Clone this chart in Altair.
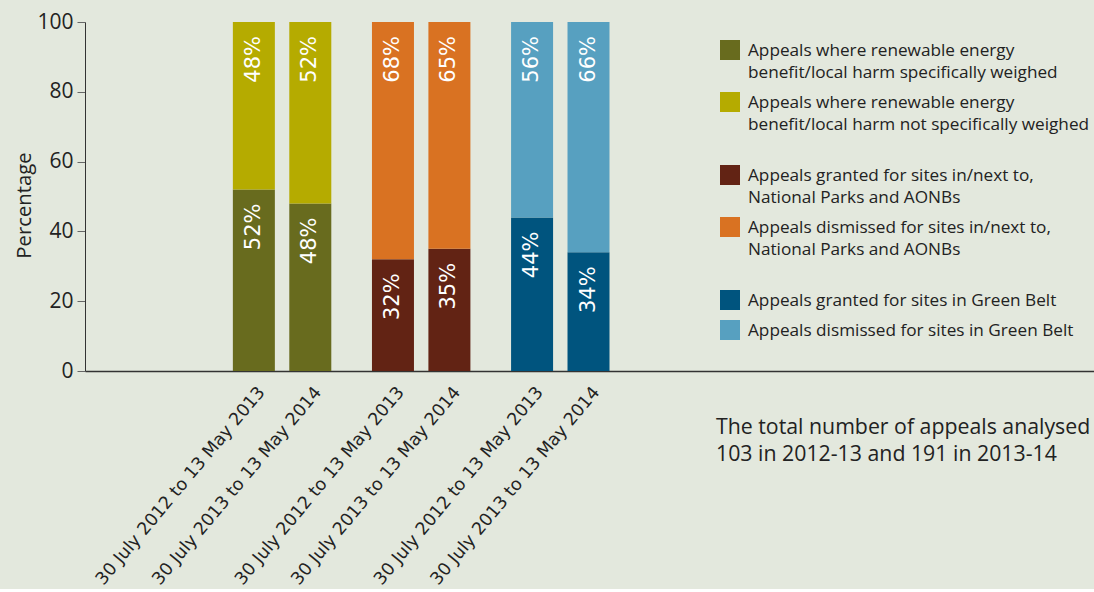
import altair as alt
import pandas as pd

# ---------------- data ----------------
periods = ["30 July 2012 to 13 May 2013", "30 July 2013 to 13 May 2014"]
groups = ["Renewable energy weighing", "National Parks and AONBs", "Green Belt"]

# lower (dark) segment and upper (light) segment, per group and period
lower_values = [52, 48, 32, 35, 44, 34]
upper_values = [48, 52, 68, 65, 56, 66]

lower_series = [
    "Appeals where renewable energy benefit/local harm specifically weighed",
    "Appeals granted for sites in/next to, National Parks and AONBs",
    "Appeals granted for sites in Green Belt",
]
upper_series = [
    "Appeals where renewable energy benefit/local harm not specifically weighed",
    "Appeals dismissed for sites in/next to, National Parks and AONBs",
    "Appeals dismissed for sites in Green Belt",
]
lower_colors = ["#686b1e", "#622314", "#00547e"]
upper_colors = ["#b5ab00", "#d97222", "#57a0c0"]

legend_lines = [
    ["Appeals where renewable energy", "benefit/local harm specifically weighed"],
    ["Appeals where renewable energy", "benefit/local harm not specifically weighed"],
    ["Appeals granted for sites in/next to,", "National Parks and AONBs"],
    ["Appeals dismissed for sites in/next to,", "National Parks and AONBs"],
    ["Appeals granted for sites in Green Belt"],
    ["Appeals dismissed for sites in Green Belt"],
]
legend_colors = [lower_colors[0], upper_colors[0], lower_colors[1],
                 upper_colors[1], lower_colors[2], upper_colors[2]]

note_lines = ["The total number of appeals analysed",
              "103 in 2012-13 and 191 in 2013-14"]

# ---------------- layout (pixels) ----------------
W, H = 1009, 349
FIRST, GROUP_STEP, PAIR_STEP = 165.5, 140.5, 57
BAR_W = 42

series_order = []
color_order = []
for g in range(3):
    series_order += [lower_series[g], upper_series[g]]
    color_order += [lower_colors[g], upper_colors[g]]

rows = []
axis_rows = []
for i, (lo, up) in enumerate(zip(lower_values, upper_values)):
    g, p = divmod(i, 2)
    pos = FIRST + g * GROUP_STEP + p * PAIR_STEP
    rows.append(dict(pos=pos, y0=0, y1=lo, series=lower_series[g], label=f"{lo}%"))
    rows.append(dict(pos=pos, y0=lo, y1=lo + up, series=upper_series[g], label=f"{up}%"))
    axis_rows.append(dict(pos=pos, period=periods[p]))
df = pd.DataFrame(rows)
df_axis = pd.DataFrame(axis_rows)

# legend geometry
LX, LTOP, LINE_H, ENTRY_GAP, GROUP_GAP, SW = 635, 18, 22, 8, 21, 20
sw_rows, txt_rows = [], []
top = LTOP
for k, lines in enumerate(legend_lines):
    sw_rows.append(dict(x=LX, x2=LX + SW, y=top, y2=top + SW, color=legend_colors[k]))
    for j, line in enumerate(lines):
        txt_rows.append(dict(x=LX + 28, y=top + 11 + j * LINE_H, text=line))
    top += len(lines) * LINE_H + ENTRY_GAP
    if k % 2 == 1:
        top += GROUP_GAP
df_sw = pd.DataFrame(sw_rows)
df_txt = pd.DataFrame(txt_rows)
df_note = pd.DataFrame([dict(x=631, y=406 + j * 27, text=t) for j, t in enumerate(note_lines)])

TEXT_FONT = "Open Sans"
INK = "#222222"

x_enc = alt.X("pos:Q", scale=alt.Scale(domain=[0, W], nice=False),
              axis=alt.Axis(labels=False, ticks=False, title=None, grid=False,
                            domainColor="#333333", domainWidth=1.3))
y_enc = alt.Y("y0:Q", scale=alt.Scale(domain=[0, 100], nice=False),
              axis=alt.Axis(values=[0, 20, 40, 60, 80, 100], title="Percentage",
                            grid=False, tickSize=8, tickColor="#666666",
                            domainColor="#333333", labelFont=TEXT_FONT,
                            labelFontSize=21, labelColor=INK, labelPadding=4,
                            titleFont=TEXT_FONT, titleFontSize=20.3,
                            titleFontWeight="normal", titleColor=INK,
                            titlePadding=2, titleY=183))

bars = alt.Chart(df).mark_bar(width=BAR_W).encode(
    x=x_enc, y=y_enc, y2="y1:Q",
    color=alt.Color("series:N", scale=alt.Scale(domain=series_order, range=color_order),
                    legend=None),
)

values = alt.Chart(df).mark_text(angle=270, align="right", baseline="middle", dx=-14,
                                 font="DejaVu Sans", fontSize=21, color="white").encode(
    x="pos:Q", y="y1:Q", text="label:N")

xlabels = alt.Chart(df_axis).mark_text(angle=310, align="right", baseline="top",
                                       dx=-9, dy=9, font="DejaVu Sans",
                                       fontSize=17.5, color=INK).encode(
    x="pos:Q", y=alt.datum(0), text="period:N")

swatches = alt.Chart(df_sw).mark_rect().encode(
    x=alt.X("x:Q", scale=None, axis=None), x2="x2:Q",
    y=alt.Y("y:Q", scale=None, axis=None), y2="y2:Q",
    color=alt.Color("color:N", scale=None))

legend_text = alt.Chart(df_txt).mark_text(align="left", baseline="middle",
                                          font=TEXT_FONT, fontSize=17.2, color=INK).encode(
    x=alt.X("x:Q", scale=None, axis=None), y=alt.Y("y:Q", scale=None, axis=None),
    text="text:N")

note = alt.Chart(df_note).mark_text(align="left", baseline="middle",
                                    font=TEXT_FONT, fontSize=21.3, color=INK).encode(
    x=alt.X("x:Q", scale=None, axis=None), y=alt.Y("y:Q", scale=None, axis=None),
    text="text:N")

chart = alt.layer(bars, values, xlabels, swatches, legend_text, note).properties(
    width=W, height=H,
    autosize=alt.AutoSizeParams(type="none"),
    padding={"left": 85, "top": 22, "right": 0, "bottom": 218},
    background="#e3e8dd",
).configure_view(stroke=None)

chart.save("out.html", embed_options={"renderer": "svg", "actions": False})
